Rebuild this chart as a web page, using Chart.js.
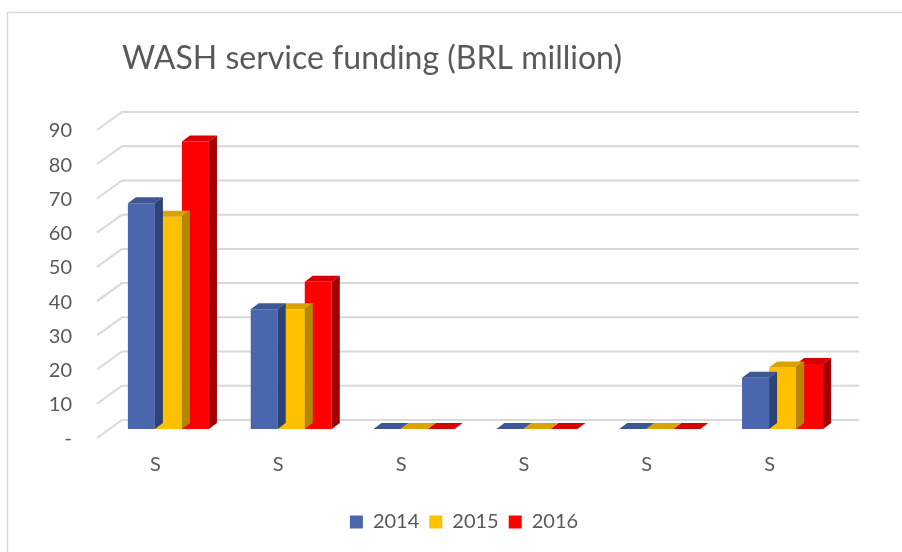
<!DOCTYPE html>
<html>
<head>
<meta charset="utf-8">
<script src="https://cdn.jsdelivr.net/npm/chart.js@4.4.1/dist/chart.umd.min.js"></script>
<style>
    html, body { margin: 0; padding: 0; background: #fff; }
    #wrap { width: 902px; height: 552px; position: relative; }
</style>
</head>
<body>
<div id="wrap"><canvas id="fundingChart"></canvas></div>
<script>
const categories = ['S', 'S', 'S', 'S', 'S', 'S'];
const years = ['2014', '2015', '2016'];
const funding2014 = [66, 35, 0, 0, 0, 15];
const funding2015 = [62, 35, 0, 0, 0, 18];
const funding2016 = [84, 43, 0, 0, 0, 19];
const yTicks = [0, 10, 20, 30, 40, 50, 60, 70, 80, 90];

const chartFont = "Lato, 'Open Sans', sans-serif";
const textGrey = '#595959';
const gridGrey = '#d9d9d9';

const frontColors = ['#4a66ac', '#ffc000', '#ff0000'];
const topColors = ['#3d5694', '#d9a300', '#d60000'];
const sideColors = ['#2d4276', '#b58800', '#a00000'];

// fake excel-style 3d: depth of each bar and offset of the back wall
const depth = { dx: 8, dy: -6 };
const wall = { dx: 15, dy: -9 };
const floorFront = { dx: -10, dy: 9 };

const bar3d = {
    id: 'bar3d',
    beforeDraw(chart) {
        const ctx = chart.ctx;
        ctx.save();
        ctx.fillStyle = '#fff';
        ctx.fillRect(0, 0, chart.width, chart.height);
        ctx.strokeStyle = gridGrey;
        ctx.lineWidth = 1.5;
        ctx.beginPath();
        ctx.moveTo(7.5, chart.height);
        ctx.lineTo(7.5, 12.5);
        ctx.lineTo(chart.width, 12.5);
        ctx.stroke();

        ctx.fillStyle = textGrey;
        ctx.font = '32px ' + chartFont;
        ctx.textBaseline = 'middle';
        ctx.textAlign = 'left';
        ctx.fillText('WASH service funding (BRL million)', chart.chartArea.left + wall.dx, 59);
        ctx.restore();
    },
    beforeDatasetsDraw(chart) {
        const ctx = chart.ctx;
        const yScale = chart.scales.y;
        const { left, right } = chart.chartArea;
        ctx.save();
        ctx.strokeStyle = gridGrey;
        ctx.lineWidth = 2;
        yTicks.forEach((v) => {
            const py = yScale.getPixelForValue(v);
            ctx.beginPath();
            ctx.moveTo(left + floorFront.dx, py + floorFront.dy);
            ctx.lineTo(left + wall.dx, py + wall.dy);
            ctx.lineTo(right + wall.dx, py + wall.dy);
            ctx.stroke();
        });
        ctx.restore();
    },
    afterDatasetDraw(chart, args) {
        const ctx = chart.ctx;
        const i = args.index;
        ctx.save();
        args.meta.data.forEach((bar) => {
            const { x, y, base, width } = bar.getProps(['x', 'y', 'base', 'width'], true);
            const l = x - width / 2;
            const r = x + width / 2;
            ctx.fillStyle = topColors[i];
            ctx.beginPath();
            ctx.moveTo(l, y);
            ctx.lineTo(l + depth.dx, y + depth.dy);
            ctx.lineTo(r + depth.dx, y + depth.dy);
            ctx.lineTo(r, y);
            ctx.closePath();
            ctx.fill();

            ctx.fillStyle = sideColors[i];
            ctx.beginPath();
            ctx.moveTo(r, y);
            ctx.lineTo(r + depth.dx, y + depth.dy);
            ctx.lineTo(r + depth.dx, base + depth.dy);
            ctx.lineTo(r, base);
            ctx.closePath();
            ctx.fill();
        });
        ctx.restore();
    },
};

const makeDataset = (label, data, i) => ({
    label,
    data,
    backgroundColor: frontColors[i],
    borderWidth: 0,
    categoryPercentage: 0.66,
    barPercentage: 1,
});

new Chart(document.getElementById('fundingChart'), {
    type: 'bar',
    data: {
        labels: categories,
        datasets: [
            makeDataset(years[0], funding2014, 0),
            makeDataset(years[1], funding2015, 1),
            makeDataset(years[2], funding2016, 2),
        ],
    },
    options: {
        responsive: true,
        maintainAspectRatio: false,
        animation: false,
        layout: { padding: { left: 40, right: 14, top: 121, bottom: 10 } },
        scales: {
            y: {
                min: 0,
                max: 90,
                grid: { display: false, drawTicks: false },
                border: { display: false },
                afterFit: (axis) => { axis.width = 67; },
                ticks: {
                    stepSize: 10,
                    padding: 35,
                    labelOffset: 10,
                    color: textGrey,
                    font: { family: chartFont, size: 20 },
                    callback: (v) => v === 0 ? '-' : v,
                },
            },
            // empty right axis, only keeps the plot narrower so the legend sits where it should
            spacer: {
                type: 'linear',
                position: 'right',
                grid: { display: false, drawTicks: false },
                border: { display: false },
                ticks: { display: false },
                afterFit: (axis) => { axis.width = 44; },
            },
            x: {
                grid: { display: false, drawTicks: false },
                border: { display: false },
                afterFit: (axis) => { axis.height = 73; },
                ticks: {
                    padding: 24,
                    labelOffset: -13,
                    maxRotation: 0,
                    color: textGrey,
                    font: { family: chartFont, size: 20 },
                },
            },
        },
        plugins: {
            legend: {
                position: 'bottom',
                labels: {
                    boxWidth: 13,
                    boxHeight: 13,
                    padding: 10,
                    color: textGrey,
                    font: { family: chartFont, size: 20 },
                },
            },
            tooltip: { enabled: false },
        },
    },
    plugins: [bar3d],
});
</script>
</body>
</html>
